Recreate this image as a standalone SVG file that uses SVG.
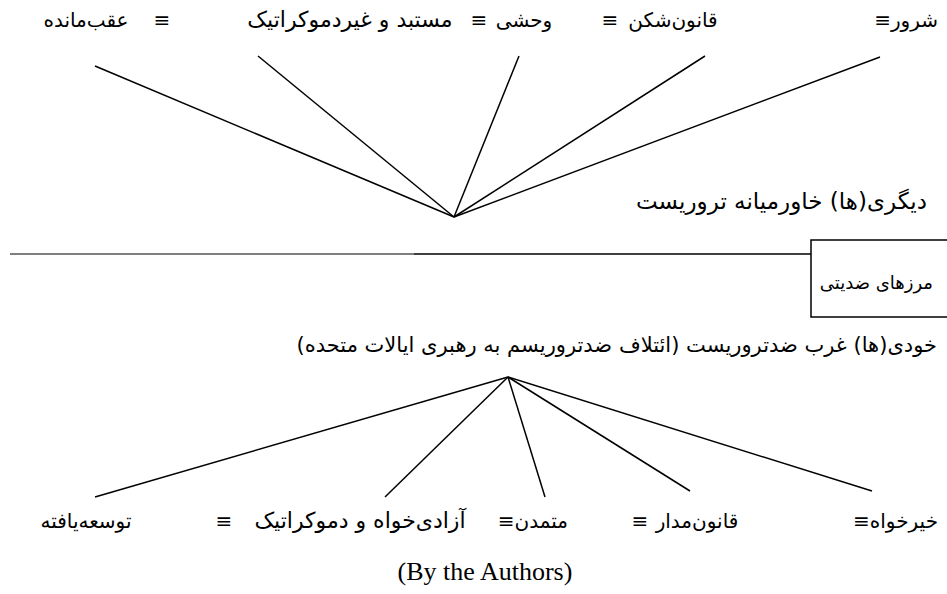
<svg xmlns="http://www.w3.org/2000/svg" width="947" height="594" viewBox="0 0 947 594">
<style>
.fa{font-family:"DejaVu Sans","Liberation Serif",sans-serif;font-size:20px;fill:#000}
.rtl{direction:rtl}
.big{font-size:23px}
.mid{font-size:21px}
.long{font-size:22px}
.sm{font-size:18px}
.en{font-family:"Liberation Serif",serif;font-size:26px;fill:#000}
.ln{stroke:#000;stroke-width:1.5;fill:none}
</style>
<rect x="0" y="0" width="947" height="594" fill="#fff"/>
<g id="connectors">
<line class="ln" x1="454" y1="217" x2="95" y2="66"/>
<line class="ln" x1="454" y1="217" x2="258" y2="56"/>
<line class="ln" x1="454" y1="217" x2="519" y2="56"/>
<line class="ln" x1="454" y1="217" x2="705" y2="56"/>
<line class="ln" x1="454" y1="217" x2="880" y2="57"/>
<line class="ln" x1="508" y1="377" x2="95" y2="497"/>
<line class="ln" x1="508" y1="377" x2="385" y2="497"/>
<line class="ln" x1="508" y1="377" x2="545" y2="497"/>
<line class="ln" x1="508" y1="377" x2="690" y2="491"/>
<line class="ln" x1="508" y1="377" x2="872" y2="491"/>
</g>
<g id="top-terms">
<text class="fa" x="86" y="27" text-anchor="middle">عقب‌مانده</text>
<text class="fa" x="162" y="27" text-anchor="middle">≡</text>
<text class="fa long" x="350" y="27" text-anchor="middle">مستبد و غیردموکراتیک</text>
<text class="fa" x="479" y="27" text-anchor="middle">≡</text>
<text class="fa" x="524" y="27" text-anchor="middle">وحشی</text>
<text class="fa" x="610" y="27" text-anchor="middle">≡</text>
<text class="fa" x="673" y="27" text-anchor="middle">قانون‌شکن</text>
<text class="fa rtl" x="938" y="27" text-anchor="start">شرور≡</text>
</g>
<g id="other">
<text class="fa big rtl" x="927" y="209" text-anchor="start">دیگری(ها) خاورمیانه تروریست</text>
</g>
<g id="border">
<line x1="10" y1="254" x2="414" y2="254" stroke="#555" stroke-width="1.3"/>
<line x1="414" y1="254" x2="811" y2="254" stroke="#000" stroke-width="1.5"/>
<rect x="811" y="240" width="150" height="77" fill="none" stroke="#000" stroke-width="1.5"/>
<text class="fa sm rtl" x="933" y="289" text-anchor="start">مرزهای ضدیتی</text>
</g>
<g id="self">
<text class="fa mid rtl" x="937" y="352" text-anchor="start">خودی(ها) غرب ضدتروریست (ائتلاف ضدتروریسم به رهبری ایالات متحده)</text>
</g>
<g id="bottom-terms">
<text class="fa" x="86" y="528" text-anchor="middle">توسعه‌یافته</text>
<text class="fa" x="224" y="528" text-anchor="middle">≡</text>
<text class="fa long" x="360" y="528" text-anchor="middle">آزادی‌خواه و دموکراتیک</text>
<text class="fa rtl" x="568" y="528" text-anchor="start">متمدن≡</text>
<text class="fa" x="640" y="528" text-anchor="middle">≡</text>
<text class="fa" x="697" y="528" text-anchor="middle">قانون‌مدار</text>
<text class="fa rtl" x="938" y="528" text-anchor="start">خیرخواه≡</text>
</g>
<g id="caption">
<text class="en" x="485" y="580" text-anchor="middle">(By the Authors)</text>
</g>
</svg>
